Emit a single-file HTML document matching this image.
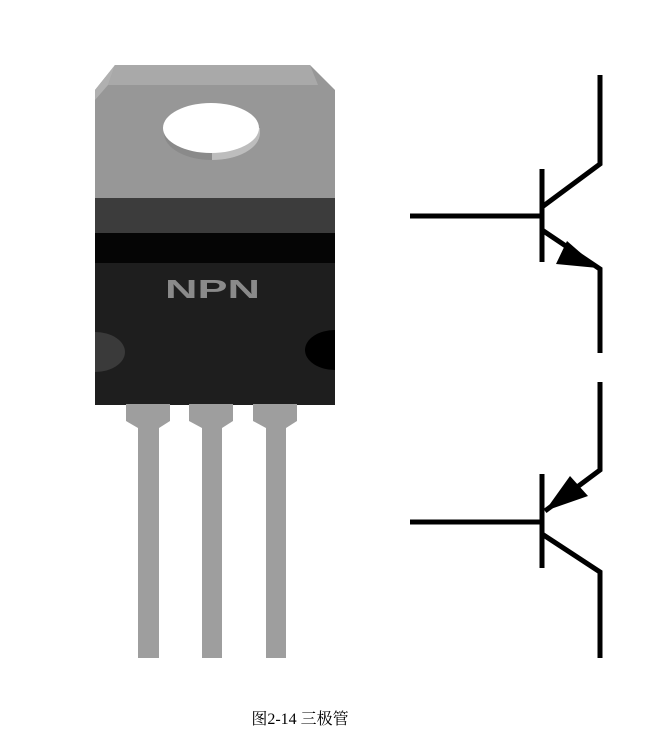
<!DOCTYPE html>
<html><head><meta charset="utf-8"><style>
body{margin:0;background:#fff;width:662px;height:734px;overflow:hidden}
</style></head><body>
<svg width="662" height="734" viewBox="0 0 662 734" xmlns="http://www.w3.org/2000/svg">
<polygon points="115,65 310,65 335,90 335,200 95,200 95,90" fill="#979797"/>
<polygon points="115,65 310,65 318,85 108,85" fill="#a9a9a9"/>
<polygon points="95,90 115,65 108,85 95,100" fill="#b0b0b0"/>
<ellipse cx="212" cy="133" rx="48" ry="27" fill="#8a8a8a"/>
<path d="M212,160 A48,27 0 0 0 260,133 L260,128 212,128Z" fill="#bdbdbd"/>
<ellipse cx="211" cy="128" rx="48" ry="25" fill="#fff"/>
<rect x="95" y="198" width="240" height="36" fill="#3c3c3c"/>
<rect x="95" y="233" width="240" height="30" fill="#050505"/>
<rect x="95" y="263" width="240" height="142" fill="#1e1e1e"/>
<path d="M95,332 A30,20 0 0 1 95,372Z" fill="#3a3a3a"/>
<path d="M335,330 A30,20 0 0 0 335,370Z" fill="#000"/>
<text x="165" y="298" textLength="95" lengthAdjust="spacingAndGlyphs" font-family="Liberation Sans, sans-serif" font-weight="900" font-size="26" fill="#8a8a8a">NPN</text>
<g fill="#9e9e9e">
<polygon points="126,404 170,404 170,421 159,428 159,658 138,658 138,428 126,421"/>
<polygon points="189,404 233,404 233,421 222,428 222,658 202,658 202,428 189,421"/>
<polygon points="253,404 297,404 297,421 286,428 286,658 266,658 266,428 253,421"/>
</g>
<g stroke="#000" stroke-width="5" fill="none">
<line x1="410" y1="216" x2="542" y2="216"/>
<line x1="542" y1="169" x2="542" y2="262"/>
<polyline points="542,207 600,164 600,75"/>
<polyline points="542,230 600,269 600,353"/>
<line x1="410" y1="522" x2="542" y2="522"/>
<line x1="542" y1="474" x2="542" y2="568"/>
<polyline points="545,511 600,470 600,382"/>
<polyline points="542,534 600,572 600,658"/>
</g>
<polygon points="598,268 567,241 556,264" fill="#000"/>
<polygon points="545,511 588,496 570,476" fill="#000"/>
<text x="300" y="724" text-anchor="middle" font-family="Liberation Serif, 'Noto Serif CJK SC', serif" font-size="16" fill="#000">图2-14 三极管</text>
</svg>
</body></html>
